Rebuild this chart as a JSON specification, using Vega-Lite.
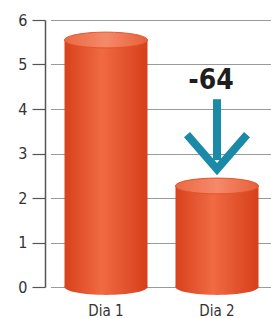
{
  "$schema": "https://vega.github.io/schema/vega-lite/v6.json",
  "autosize": "none",
  "width": 226,
  "height": 267,
  "padding": {"left": 45, "top": 20, "right": 0, "bottom": 31},
  "background": "white",
  "config": {"view": {"stroke": null}},
  "datasets": {
    "barras": [
      {"dia": "Dia 1", "valor": 5.55},
      {"dia": "Dia 2", "valor": 2.27}
    ],
    "anotacao": [
      {"dia": "Dia 2", "rotulo": "-64", "y_texto": 4.62, "y_ini": 4.22, "y_fim": 2.85, "y_ponta": 3.02}
    ]
  },
  "encoding": {
    "x": {
      "field": "dia", "type": "nominal",
      "scale": {"range": [5.5, 227.5], "paddingInner": 0, "paddingOuter": 0},
      "axis": {"title": null, "domain": false, "ticks": false, "labelAngle": 0, "labelPadding": 16,
               "labelFont": "DejaVu Sans Condensed, Liberation Sans, sans-serif", "labelFontSize": 15, "labelColor": "#333"}
    }
  },
  "layer": [
    {
      "data": {"name": "barras"},
      "mark": {"type": "point", "shape": "M-1,0A1,0.19,0,1,1,1,0A1,0.19,0,1,1,-1,0Z", "size": 6889, "filled": true, "opacity": 1,
               "strokeWidth": 0,
               "color": {"gradient": "linear", "x1": 0, "x2": 1, "y1": 0, "y2": 0,
                         "stops": [{"offset": 0, "color": "#d8411c"}, {"offset": 0.45, "color": "#f06a42"}, {"offset": 1, "color": "#d63f1a"}]}},
      "encoding": {
        "y": {"datum": 0, "type": "quantitative",
              "scale": {"domain": [0, 6], "nice": false},
              "axis": {"title": null, "values": [0, 1, 2, 3, 4, 5, 6], "domain": true, "domainColor": "#555", "domainWidth": 1.5,
                       "tickSize": 13, "tickColor": "#555", "tickWidth": 1.2, "grid": true, "gridColor": "#999", "gridWidth": 1,
                       "labelFont": "DejaVu Sans Condensed, Liberation Sans, sans-serif", "labelFontSize": 16, "labelColor": "#333", "labelPadding": 5}}
      }
    },
    {
      "data": {"name": "barras"},
      "mark": {"type": "bar", "width": 83,
               "color": {"gradient": "linear", "x1": 0, "x2": 1, "y1": 0, "y2": 0,
                         "stops": [{"offset": 0, "color": "#d8411c"}, {"offset": 0.45, "color": "#f06a42"}, {"offset": 1, "color": "#d63f1a"}]}},
      "encoding": {
        "y": {"field": "valor", "type": "quantitative"}
      }
    },
    {
      "data": {"name": "barras"},
      "mark": {"type": "point", "shape": "M-1,0A1,0.19,0,1,1,1,0A1,0.19,0,1,1,-1,0Z", "size": 6889, "filled": true, "opacity": 1,
               "stroke": "#e2532b", "strokeWidth": 1,
               "fill": {"gradient": "linear", "x1": 0, "x2": 1, "y1": 0, "y2": 0,
                        "stops": [{"offset": 0, "color": "#ea6a44"}, {"offset": 0.5, "color": "#f5896a"}, {"offset": 1, "color": "#e8603a"}]}},
      "encoding": {
        "y": {"field": "valor", "type": "quantitative"}
      }
    },
    {
      "data": {"name": "anotacao"},
      "mark": {"type": "rule", "color": "#1b8aa6", "strokeWidth": 8},
      "encoding": {
        "y": {"field": "y_ini", "type": "quantitative"},
        "y2": {"field": "y_fim"}
      }
    },
    {
      "data": {"name": "anotacao"},
      "mark": {"type": "point", "shape": "M-1,-0.6L0,0.55L1,-0.6", "size": 3600, "filled": false, "opacity": 1,
               "stroke": "#1b8aa6", "strokeWidth": 8, "strokeJoin": "miter", "fill": null},
      "encoding": {
        "y": {"field": "y_ponta", "type": "quantitative"}
      }
    },
    {
      "data": {"name": "anotacao"},
      "mark": {"type": "text", "font": "DejaVu Sans Condensed, Liberation Sans, sans-serif", "fontWeight": "bold", "fontSize": 28, "color": "#1e1e1e", "dx": -6, "baseline": "middle"},
      "encoding": {
        "y": {"field": "y_texto", "type": "quantitative"},
        "text": {"field": "rotulo"}
      }
    }
  ]
}
